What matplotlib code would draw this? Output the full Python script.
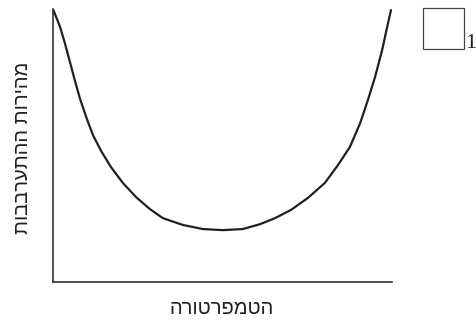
import matplotlib.pyplot as plt
from matplotlib.patches import Rectangle

# Mixing rate against temperature, read as points along the U-shaped curve
temperature = [0.00, 0.21, 0.35, 0.50, 0.65, 0.80, 1.00, 1.18, 1.42, 1.71,
               2.06, 2.45, 2.86, 3.24, 3.83, 4.42, 5.01, 5.60, 6.11, 6.55,
               7.02, 7.52, 8.02, 8.41, 8.76, 9.06, 9.29, 9.50, 9.71, 9.85,
               9.97]
mixing_rate = [10.00, 9.34, 8.75, 8.06, 7.36, 6.70, 5.97, 5.38, 4.80, 4.21,
               3.63, 3.11, 2.67, 2.34, 2.09, 1.94, 1.90, 1.94, 2.12, 2.34,
               2.64, 3.08, 3.63, 4.29, 4.95, 5.82, 6.67, 7.51, 8.50, 9.30,
               9.96]

x_label = "הטמפרטורה"
y_label = "מהירות ההתערבבות"
box_label = "1"


def rtl(s):
    # matplotlib lays glyphs out left to right, so flip Hebrew strings
    return s[::-1]


fig = plt.figure(figsize=(4.77, 3.24), dpi=100)
ax = fig.add_axes([0.1111, 0.1296, 0.7107, 0.8426])

ax.plot(temperature, mixing_rate, color='#231f20', lw=1.6,
        solid_capstyle='round', solid_joinstyle='round')
ax.set_xlim(0, 10)
ax.set_ylim(0, 10)
ax.set_xticks([])
ax.set_yticks([])
for side in ['top', 'right']:
    ax.spines[side].set_visible(False)
for side in ['left', 'bottom']:
    ax.spines[side].set_color('#333333')
    ax.spines[side].set_linewidth(1.2)

hebrew_font = ['Liberation Sans', 'DejaVu Sans']
fig.text(222 / 477, 1 - 309 / 324, rtl(x_label), ha='center', va='center',
         fontsize=14.5, family=hebrew_font, color='#231f20')
fig.text(23 / 477, 1 - 148 / 324, rtl(y_label), ha='center', va='center',
         rotation=90, fontsize=14.5, family=hebrew_font, color='#231f20')

# Empty answer box with its number
fig.patches.append(Rectangle((423 / 477, 1 - 49 / 324), 41 / 477, 41 / 324,
                             transform=fig.transFigure, fill=False,
                             ec='#444444', lw=0.9))
fig.text(476.5 / 477, 1 - 48 / 324, box_label, ha='right', va='baseline',
         fontsize=16, family='Liberation Serif', color='#231f20')

fig.savefig('out.png', dpi=100)
